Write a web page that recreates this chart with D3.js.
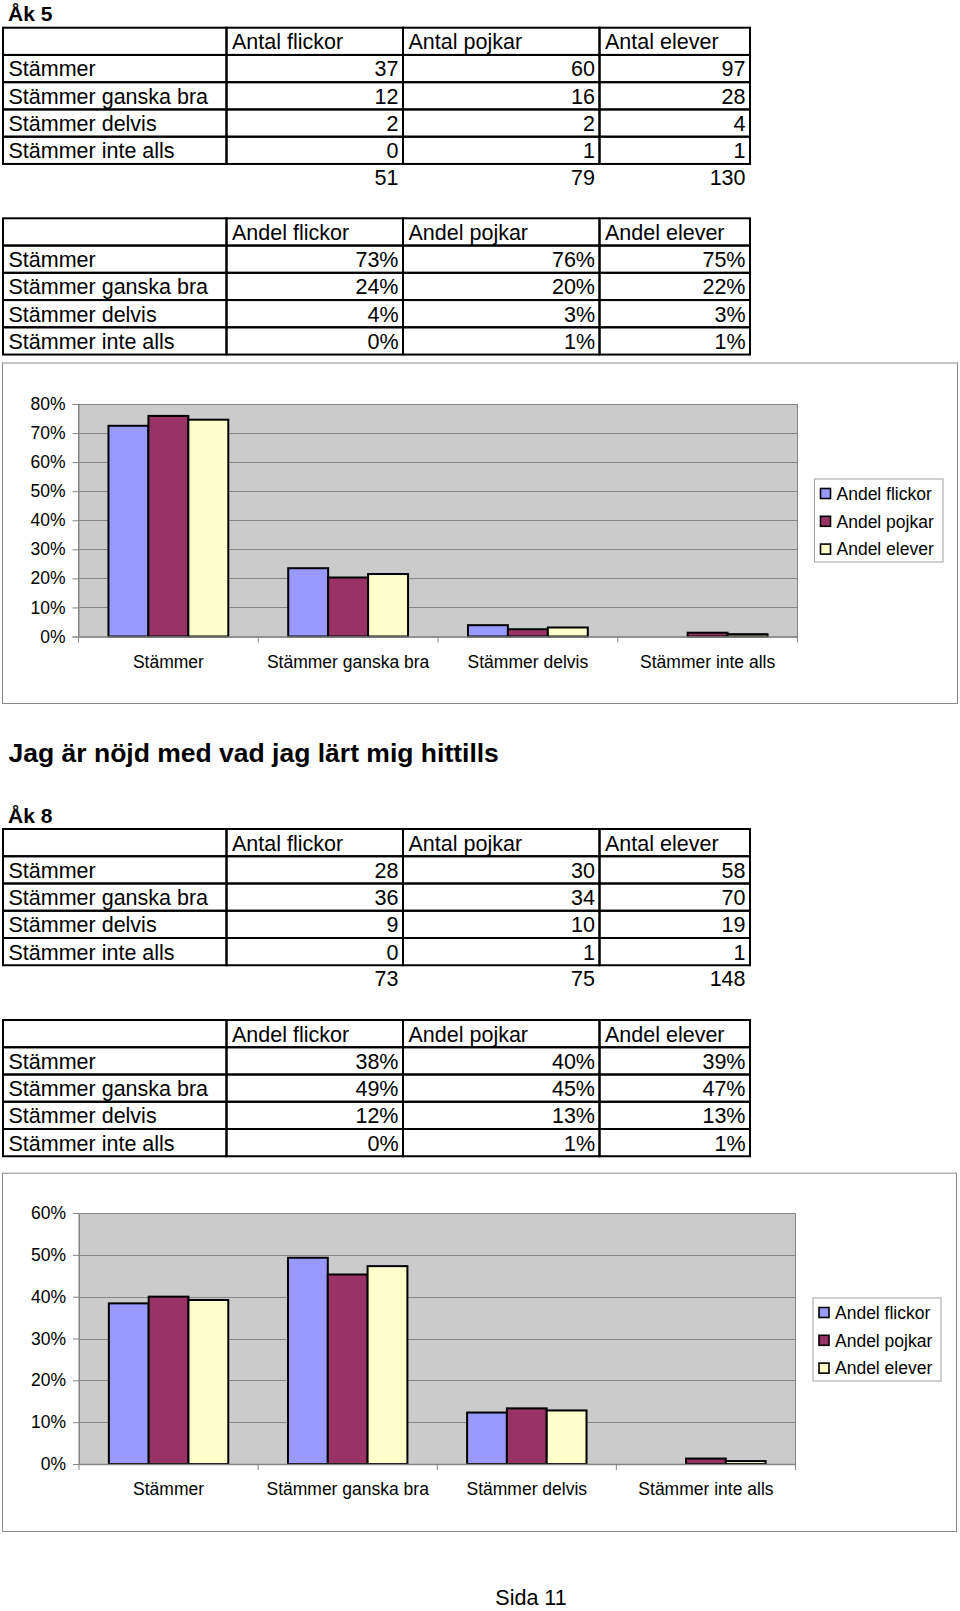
<!DOCTYPE html>
<html>
<head>
<meta charset="utf-8">
<script src="https://cdn.jsdelivr.net/npm/d3@7"></script>
<style>
  body { margin: 0; background: #fff; }
  svg { display: block; font-family: "Liberation Sans", Arial, Helvetica, sans-serif; }
</style>
</head>
<body>
<svg id="page" width="960" height="1611"></svg>
<script>
// ---------- DATA ----------
const categories = ["Stämmer", "Stämmer ganska bra", "Stämmer delvis", "Stämmer inte alls"];
const countHeaders = ["Antal flickor", "Antal pojkar", "Antal elever"];
const shareHeaders = ["Andel flickor", "Andel pojkar", "Andel elever"];

// Åk 5
const ak5Counts = [[37, 60, 97], [12, 16, 28], [2, 2, 4], [0, 1, 1]];
const ak5Totals = [51, 79, 130];
const ak5ShareText = [["73%", "76%", "75%"], ["24%", "20%", "22%"], ["4%", "3%", "3%"], ["0%", "1%", "1%"]];
const ak5Flickor = [72.5, 23.5, 3.9, 0];
const ak5Pojkar = [75.9, 20.3, 2.5, 1.3];
const ak5Elever = [74.6, 21.5, 3.1, 0.8];
const ak5Ticks = [0, 10, 20, 30, 40, 50, 60, 70, 80];

// Åk 8
const ak8Counts = [[28, 30, 58], [36, 34, 70], [9, 10, 19], [0, 1, 1]];
const ak8Totals = [73, 75, 148];
const ak8ShareText = [["38%", "40%", "39%"], ["49%", "45%", "47%"], ["12%", "13%", "13%"], ["0%", "1%", "1%"]];
const ak8Flickor = [38.4, 49.3, 12.3, 0];
const ak8Pojkar = [40.0, 45.3, 13.3, 1.3];
const ak8Elever = [39.2, 47.3, 12.8, 0.7];
const ak8Ticks = [0, 10, 20, 30, 40, 50, 60];

const seriesColors = ["#9999FF", "#993366", "#FFFFCC"];

// ---------- DRAW ----------
const svg = d3.select("#page");
svg.append("rect").attr("width", 960).attr("height", 1611).attr("fill", "#fff");

const FONT = 21.5;
const colX = [3, 226.5, 403, 599.5, 750];
const rowH = 27.25;

function heading(text, x, y, size) {
  svg.append("text").attr("x", x).attr("y", y)
    .attr("font-size", size).attr("font-weight", "bold").attr("fill", "#000").text(text);
}

function drawTable(top, headers, rowLabels, cells, totals) {
  const g = svg.append("g");
  const rows = [["", ...headers]].concat(rowLabels.map((r, i) => [r, ...cells[i]]));
  rows.forEach((row, ri) => {
    const y0 = top + ri * rowH;
    row.forEach((val, ci) => {
      const x0 = colX[ci], x1 = colX[ci + 1];
      g.append("rect").attr("x", x0).attr("y", y0).attr("width", x1 - x0).attr("height", rowH)
        .attr("fill", "none").attr("stroke", "#000").attr("stroke-width", 2);
      const isNum = ri > 0 && ci > 0;
      g.append("text")
        .attr("x", isNum ? x1 - 4.5 : x0 + 5.5)
        .attr("y", y0 + 21.5)
        .attr("text-anchor", isNum ? "end" : "start")
        .attr("font-size", FONT).attr("fill", "#000")
        .text(val);
    });
  });
  if (totals) {
    const yb = top + rows.length * rowH + 21;
    totals.forEach((t, i) => {
      g.append("text").attr("x", colX[i + 2] - 4.5).attr("y", yb)
        .attr("text-anchor", "end").attr("font-size", FONT).attr("fill", "#000").text(t);
    });
  }
}

function drawChart(cfg) {
  const g = svg.append("g");
  // outer chart area
  g.append("rect").attr("x", cfg.box[0] + 0.5).attr("y", cfg.box[1] + 0.5)
    .attr("width", cfg.box[2] - cfg.box[0]).attr("height", cfg.box[3] - cfg.box[1])
    .attr("fill", "#fff").attr("stroke", "#8a8a8a").attr("stroke-width", 1);

  const [px0, py0, px1, py1] = cfg.plot;
  const y = d3.scaleLinear().domain([0, d3.max(cfg.ticks)]).range([py1, py0]);
  const x = d3.scaleBand().domain(categories).range([px0, px1]).paddingInner(0).paddingOuter(0);
  const xs = d3.scaleBand().domain([0, 1, 2]).range([0, x.bandwidth()]).paddingInner(0).paddingOuter(0.75);

  // plot background
  g.append("rect").attr("x", px0).attr("y", py0).attr("width", px1 - px0).attr("height", py1 - py0)
    .attr("fill", "#CBCBCB");
  // gridlines
  g.append("g").selectAll("line").data(cfg.ticks.filter(t => t > 0)).join("line")
    .attr("x1", px0).attr("x2", px1)
    .attr("y1", d => Math.round(y(d)) + 0.5).attr("y2", d => Math.round(y(d)) + 0.5)
    .attr("stroke", "#858585").attr("stroke-width", 1);
  // plot border
  g.append("rect").attr("x", px0).attr("y", py0 + 0.5).attr("width", px1 - px0).attr("height", py1 - py0)
    .attr("fill", "none").attr("stroke", "#858585").attr("stroke-width", 1);

  // bars
  const series = [cfg.flickor, cfg.pojkar, cfg.elever];
  series.forEach((vals, si) => {
    g.append("g").selectAll("rect")
      .data(categories.map((c, i) => ({ c, v: vals[i] })).filter(d => d.v > 0))
      .join("rect")
      .attr("x", d => x(d.c) + xs(si))
      .attr("y", d => y(d.v))
      .attr("width", xs.bandwidth())
      .attr("height", d => y(0) - y(d.v))
      .attr("fill", seriesColors[si])
      .attr("stroke", "#000").attr("stroke-width", 2);
  });

  // y axis
  const ya = g.append("g").attr("transform", `translate(${px0},0)`)
    .call(d3.axisLeft(y).tickValues(cfg.ticks).tickSize(6).tickPadding(7).tickFormat(d => d + "%"));
  ya.select(".domain").attr("stroke", "#858585");
  ya.selectAll(".tick line").attr("stroke", "#858585");
  ya.selectAll("text").attr("font-size", 17.5).attr("fill", "#000")
    .attr("font-family", "\"Liberation Sans\", Arial, sans-serif");

  // x axis
  const xa = g.append("g").attr("transform", `translate(0,${py1})`)
    .call(d3.axisBottom(x).tickSize(0).tickPadding(cfg.labelPad));
  xa.select(".domain").attr("stroke", "#858585").attr("stroke-width", 1.5);
  xa.selectAll("text").attr("font-size", 17.5).attr("fill", "#000")
    .attr("font-family", "\"Liberation Sans\", Arial, sans-serif");
  const bounds = categories.map(c => x(c)).concat([x.range()[1]]);
  g.append("g").selectAll("line").data(bounds).join("line")
    .attr("x1", d => d).attr("x2", d => d)
    .attr("y1", py1).attr("y2", py1 + 6)
    .attr("stroke", "#858585").attr("stroke-width", 1);

  // legend
  const [lx0, ly0, lx1, ly1] = cfg.legend;
  g.append("rect").attr("x", lx0 + 0.5).attr("y", ly0 + 0.5).attr("width", lx1 - lx0).attr("height", ly1 - ly0)
    .attr("fill", "#fff").attr("stroke", "#a0a0a0").attr("stroke-width", 1);
  shareHeaders.forEach((name, i) => {
    const cy = ly0 + 15 + i * 27.8;
    g.append("rect").attr("x", lx0 + 6.5).attr("y", cy - 5).attr("width", 10).attr("height", 10)
      .attr("fill", seriesColors[i]).attr("stroke", "#000").attr("stroke-width", 1.6);
    g.append("text").attr("x", lx0 + 22.5).attr("y", cy + 6.3)
      .attr("font-size", 17.5).attr("fill", "#000").text(name);
  });
}

// Åk 5
heading("Åk 5", 8, 21, 21);
drawTable(27.7, countHeaders, categories, ak5Counts, ak5Totals);
drawTable(218.3, shareHeaders, categories, ak5ShareText, null);
drawChart({
  box: [2, 362.5, 957, 703],
  plot: [78.5, 404, 797.5, 636.5],
  ticks: ak5Ticks,
  flickor: ak5Flickor, pojkar: ak5Pojkar, elever: ak5Elever,
  legend: [814, 478.5, 942.5, 561.5],
  labelPad: 19
});

// Title + Åk 8
heading("Jag är nöjd med vad jag lärt mig hittills", 8.5, 761.5, 26.5);
heading("Åk 8", 8, 823, 21);
drawTable(829, countHeaders, categories, ak8Counts, ak8Totals);
drawTable(1020, shareHeaders, categories, ak8ShareText, null);
drawChart({
  box: [2, 1172.7, 956, 1531],
  plot: [79, 1213, 795.5, 1464],
  ticks: ak8Ticks,
  flickor: ak8Flickor, pojkar: ak8Pojkar, elever: ak8Elever,
  legend: [812.5, 1297.5, 940.5, 1380.5],
  labelPad: 19
});

// page footer
svg.append("text").attr("x", 531).attr("y", 1605).attr("text-anchor", "middle")
  .attr("font-size", 21.5).attr("fill", "#000").text("Sida 11");
</script>
</body>
</html>
